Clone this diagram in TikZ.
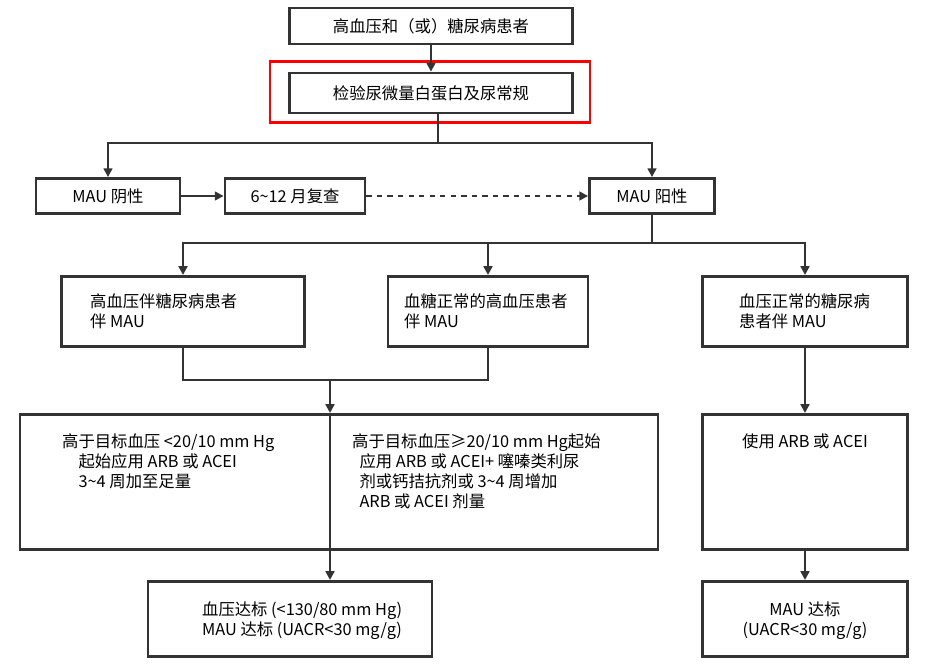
\documentclass[tikz,border=0pt]{standalone}
\usepackage{fontspec}
\setmainfont{Noto Sans CJK SC}
\usetikzlibrary{positioning,arrows.meta}
\begin{document}
\begin{tikzpicture}[x=0.02cm,y=-0.02cm,
    box/.style = {draw=black!80, line width=1.6pt, align=center, inner sep=2pt, font=\fontsize{9.3}{11.3}\selectfont},
    link/.style = {draw=black!80, line width=1.4pt},
    arr/.style = {link, -{Triangle[length=5pt,width=5pt]}},
    txt/.style = {align=left, font=\fontsize{9.3}{11.3}\selectfont}
  ]
  \useasboundingbox (0,0) rectangle (931,666);
  % boxes
  \node[box, minimum width=283*0.02cm, minimum height=36*0.02cm] (start) at (431,26) {高血压和（或）糖尿病患者};
  \node[draw=red, line width=1.2pt, minimum width=320*0.02cm, minimum height=61*0.02cm] (mark) at (430,92) {};
  \node[box, minimum width=283*0.02cm, minimum height=40*0.02cm] (test) at (431,93) {检验尿微量白蛋白及尿常规};
  \node[box, minimum width=144*0.02cm, minimum height=35*0.02cm] (neg) at (108,196) {MAU 阴性};
  \node[box, minimum width=140*0.02cm, minimum height=35*0.02cm] (recheck) at (295,196) {6\textasciitilde12 月复查};
  \node[box, minimum width=125*0.02cm, minimum height=35*0.02cm] (pos) at (652,196) {MAU 阳性};
  \node[box, minimum width=243*0.02cm, minimum height=70*0.02cm, anchor=north] (g1) at (183,275) {};
  \node[txt, anchor=north west] at (84,288) {高血压伴糖尿病患者\\伴 MAU};
  \node[box, minimum width=200*0.02cm, minimum height=70*0.02cm, anchor=north] (g2) at (488,275) {};
  \node[txt, anchor=north west] at (398,288) {血糖正常的高血压患者\\伴 MAU};
  \node[box, minimum width=205*0.02cm, minimum height=70*0.02cm, anchor=north] (g3) at (805,275) {};
  \node[txt, anchor=north west] at (733,288) {血压正常的糖尿病\\患者伴 MAU};
  \node[box, minimum width=638*0.02cm, minimum height=135*0.02cm, anchor=north] (treat) at (339,413) {};
  \node[txt, anchor=north west] at (56,428) {高于目标血压 <20/10 mm Hg\\\quad 起始应用 ARB 或 ACEI\\\quad 3\textasciitilde4 周加至足量};
  \node[txt, anchor=north west] at (346,428) {高于目标血压≥20/10 mm Hg起始\\\ \ 应用 ARB 或 ACEI+ 噻嗪类利尿\\\ \ 剂或钙拮抗剂或 3\textasciitilde4 周增加\\\ \ ARB 或 ACEI 剂量};
  \node[box, minimum width=205*0.02cm, minimum height=135*0.02cm, anchor=north] (treat3) at (805,413) {};
  \node[txt, anchor=north] at (805,428) {使用 ARB 或 ACEI};
  \node[box, minimum width=284*0.02cm, minimum height=75*0.02cm, anchor=north] (goal) at (290,580) {};
  \node[txt, anchor=north west] at (196,596) {血压达标 (<130/80 mm Hg)\\MAU 达标 (UACR<30 mg/g)};
  \node[box, minimum width=205*0.02cm, minimum height=75*0.02cm, anchor=north] (goal3) at (805,580) {};
  \node[txt, align=center, anchor=north] at (805,596) {MAU 达标\\(UACR<30 mg/g)};
  % connectors
  \coordinate (s1) at (438,143);
  \coordinate (s2) at (652,243);
  \coordinate (j1) at (330,380);
  \draw[arr] (start) -- (test);
  \draw[link] (test.south -| s1) -- (s1);
  \draw[arr] (s1) -| (neg.north);
  \draw[arr] (s1) -| (pos.north);
  \draw[arr] (neg) -- (recheck);
  \draw[arr, dashed] (recheck) -- (pos);
  \draw[link] (pos) -- (s2);
  \draw[arr] (s2) -| (g1.north);
  \draw[arr] (s2) -| (g2.north);
  \draw[arr] (s2) -| (g3.north);
  \draw[link] (g1.south) |- (j1);
  \draw[link] (g2.south) |- (j1);
  \draw[arr] (j1) -- (j1 |- treat.north);
  \draw[link] (j1 |- treat.north) -- (j1 |- treat.south);
  \draw[arr] (j1 |- treat.south) -- (j1 |- goal.north);
  \draw[arr] (g3) -- (treat3);
  \draw[arr] (treat3) -- (goal3);
\end{tikzpicture}
\end{document}
